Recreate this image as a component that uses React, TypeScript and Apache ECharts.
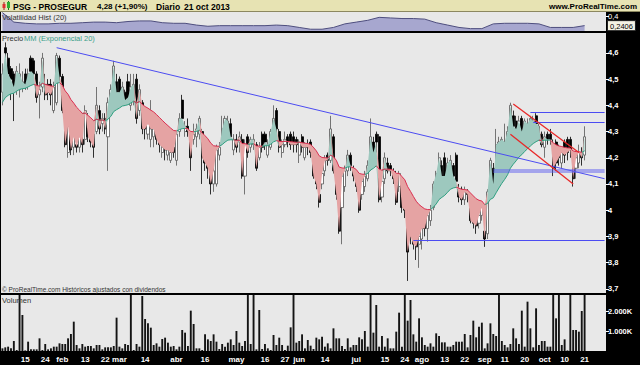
import React, { useEffect, useRef } from "react";
import * as echarts from "echarts";

// ---------- data ----------
const START_DATE = "2013-01-03";
const END_DATE = "2013-10-21";
const HOLIDAYS = ["2013-03-29", "2013-04-01", "2013-05-01"];
const PAD_NAMES = ["p1", "p2", "p3", "p4", "p5", "p6", "p7"];

const opens = [
  4.45,4.62,4.58,4.54,4.52,4.46,4.46,4.47,4.52,4.48,
  4.58,4.57,4.52,4.44,4.47,4.48,4.48,4.48,4.38,4.41,
  4.58,4.51,4.37,4.22,4.32,4.24,4.25,4.24,4.27,4.27,
  4.35,4.30,4.29,4.30,4.38,4.33,4.35,4.28,4.40,4.45,
  4.49,4.50,4.43,4.45,4.49,4.40,4.42,4.50,4.38,4.41,
  4.37,4.29,4.27,4.28,4.33,4.28,4.22,4.24,4.21,4.19,
  4.24,4.19,4.30,4.42,4.30,4.32,4.28,4.27,4.28,4.29,
  4.30,4.24,4.20,4.16,4.10,4.10,4.21,4.27,4.29,4.30,
  4.33,4.23,4.27,4.26,4.27,4.13,4.28,4.24,4.25,4.25,
  4.20,4.29,4.29,4.21,4.24,4.29,4.38,4.30,4.22,4.25,
  4.28,4.29,4.28,4.27,4.21,4.28,4.20,4.25,4.26,4.23,
  4.15,4.06,4.10,4.15,4.21,4.19,4.28,4.11,4.03,4.01,
  4.09,4.15,4.21,4.15,4.12,4.10,4.06,4.09,4.12,4.17,
  4.26,4.29,4.28,4.05,4.12,4.18,4.17,4.14,4.13,4.09,
  4.10,4.01,3.98,3.93,3.96,3.89,3.87,3.89,3.96,3.93,
  3.96,4.01,4.09,4.14,4.17,4.20,4.10,4.12,4.17,4.21,
  4.08,4.08,4.04,4.07,4.05,3.99,3.98,3.95,3.98,3.92,
  3.91,4.07,4.16,4.20,4.23,4.23,4.24,4.25,4.30,4.36,
  4.34,4.29,4.35,4.30,4.30,4.30,4.31,4.36,4.28,4.29,
  4.24,4.29,4.29,4.25,4.26,4.24,4.18,4.26,4.27,4.27,
  4.22,4.16,4.18,4.22,4.21,
];
const closes = [
  4.52,4.60,4.52,4.50,4.47,4.53,4.52,4.49,4.48,4.52,
  4.53,4.52,4.43,4.46,4.58,4.44,4.45,4.44,4.47,4.59,
  4.51,4.38,4.25,4.32,4.23,4.28,4.24,4.28,4.25,4.38,
  4.28,4.26,4.24,4.40,4.31,4.35,4.31,4.41,4.46,4.55,
  4.45,4.45,4.47,4.42,4.43,4.47,4.48,4.35,4.46,4.31,
  4.31,4.33,4.31,4.31,4.27,4.25,4.24,4.23,4.23,4.22,
  4.22,4.29,4.35,4.35,4.32,4.30,4.20,4.29,4.31,4.35,
  4.20,4.18,4.16,4.10,4.15,4.23,4.24,4.31,4.35,4.34,
  4.28,4.27,4.24,4.28,4.13,4.25,4.22,4.27,4.27,4.16,
  4.24,4.24,4.26,4.25,4.30,4.35,4.31,4.24,4.25,4.27,
  4.26,4.25,4.25,4.25,4.26,4.24,4.24,4.24,4.22,4.13,
  4.10,4.03,4.14,4.19,4.19,4.31,4.15,4.06,3.92,4.13,
  4.15,4.21,4.17,4.13,4.09,4.00,4.11,4.13,4.17,4.28,
  4.22,4.26,4.04,4.11,4.20,4.15,4.15,4.12,4.03,4.14,
  4.01,4.00,3.84,3.90,3.87,3.86,3.90,3.93,3.93,3.98,
  4.00,4.10,4.14,4.20,4.13,4.13,4.18,4.19,4.13,4.11,
  4.05,4.04,4.07,4.06,3.96,3.95,3.94,3.98,4.01,3.89,
  4.07,4.19,4.10,4.25,4.26,4.27,4.26,4.30,4.40,4.32,
  4.31,4.34,4.30,4.34,4.33,4.35,4.34,4.33,4.32,4.25,
  4.28,4.27,4.27,4.16,4.18,4.20,4.22,4.21,4.22,4.23,
  4.12,4.20,4.22,4.20,4.28,
];
const lows = [
  4.40,4.55,4.48,4.42,4.34,4.44,4.43,4.45,4.46,4.46,
  4.50,4.49,4.41,4.35,4.45,4.42,4.42,4.40,4.37,4.40,
  4.49,4.37,4.24,4.20,4.21,4.21,4.22,4.22,4.22,4.25,
  4.26,4.24,4.20,4.29,4.29,4.30,4.29,4.15,4.38,4.44,
  4.43,4.42,4.40,4.40,4.41,4.38,4.40,4.33,4.36,4.29,
  4.27,4.27,4.24,4.24,4.25,4.22,4.20,4.19,4.19,4.18,
  4.20,4.17,4.28,4.33,4.28,4.28,4.15,4.25,4.24,4.27,
  4.10,4.15,4.12,4.06,4.07,4.09,4.19,4.25,4.27,4.28,
  4.27,4.21,4.22,4.22,4.12,4.06,4.20,4.22,4.23,4.15,
  4.19,4.22,4.23,4.20,4.23,4.28,4.29,4.22,4.20,4.24,
  4.24,4.23,4.22,4.22,4.18,4.22,4.19,4.21,4.20,4.12,
  4.08,4.01,4.08,4.13,4.17,4.18,4.14,4.04,3.91,3.87,
  4.07,4.13,4.15,4.11,4.07,3.99,4.04,4.07,4.11,4.15,
  4.20,4.22,4.03,4.03,4.10,4.14,4.13,4.10,4.02,4.07,
  3.99,3.97,3.73,3.87,3.85,3.81,3.78,3.85,3.90,3.88,
  3.94,4.00,4.07,4.12,4.11,4.11,4.09,4.10,4.11,4.10,
  4.03,4.02,4.02,4.03,3.95,3.93,3.91,3.93,3.96,3.86,
  3.89,4.06,4.08,4.18,4.21,4.21,4.22,4.24,4.29,4.30,
  4.29,4.27,4.28,4.28,4.28,4.29,4.29,4.30,4.27,4.24,
  4.20,4.25,4.25,4.13,4.15,4.17,4.16,4.18,4.19,4.20,
  4.09,4.12,4.16,4.17,4.19,
];
const highs = [
  4.56,4.64,4.60,4.55,4.53,4.55,4.56,4.53,4.54,4.54,
  4.59,4.58,4.53,4.49,4.60,4.52,4.50,4.50,4.49,4.60,
  4.59,4.52,4.38,4.33,4.34,4.30,4.27,4.29,4.29,4.40,
  4.37,4.32,4.30,4.47,4.40,4.37,4.37,4.43,4.48,4.57,
  4.52,4.51,4.49,4.46,4.52,4.52,4.52,4.52,4.48,4.42,
  4.39,4.35,4.42,4.33,4.34,4.30,4.26,4.25,4.25,4.25,
  4.26,4.30,4.37,4.44,4.34,4.35,4.30,4.33,4.33,4.36,
  4.31,4.26,4.21,4.18,4.17,4.25,4.26,4.36,4.36,4.36,
  4.35,4.29,4.29,4.30,4.29,4.27,4.29,4.28,4.29,4.26,
  4.26,4.30,4.30,4.27,4.31,4.40,4.39,4.31,4.27,4.30,
  4.29,4.30,4.30,4.28,4.27,4.29,4.26,4.27,4.27,4.24,
  4.17,4.08,4.15,4.21,4.22,4.36,4.29,4.12,4.04,4.14,
  4.17,4.23,4.22,4.17,4.13,4.12,4.12,4.15,4.19,4.35,
  4.28,4.30,4.29,4.15,4.22,4.20,4.18,4.16,4.15,4.15,
  4.11,4.02,3.99,3.95,3.98,3.90,3.91,3.94,3.97,3.99,
  4.02,4.11,4.15,4.22,4.19,4.22,4.20,4.21,4.18,4.22,
  4.10,4.09,4.09,4.08,4.06,4.00,4.00,4.00,4.03,3.93,
  4.08,4.20,4.18,4.31,4.28,4.28,4.33,4.32,4.41,4.38,
  4.36,4.36,4.36,4.35,4.35,4.36,4.36,4.37,4.33,4.30,
  4.30,4.30,4.31,4.27,4.27,4.25,4.24,4.27,4.28,4.28,
  4.23,4.22,4.25,4.24,4.32,
];
// volume in thousands of shares
const volumesK = [
  133,183,217,133,500,50,3200,1800,30,467,
  83,83,83,633,50,350,83,133,217,217,
  383,350,350,633,850,1467,300,133,350,217,
  250,250,133,300,300,83,183,183,183,250,
  1667,217,133,350,300,3200,50,350,217,2750,
  1600,1383,1167,300,383,217,600,667,417,217,
  250,83,217,1050,917,250,2017,1350,133,133,
  50,833,583,500,833,467,100,350,217,417,
  583,300,1000,417,250,500,3200,350,3200,83,
  2050,100,350,133,50,800,300,667,300,50,
  267,1183,3200,417,500,833,133,550,267,100,
  667,583,717,217,383,133,1133,633,633,250,
  100,633,183,300,300,683,583,1000,217,3200,
  917,2300,217,750,217,633,133,133,967,1917,
  217,3200,1517,2550,833,467,1633,683,300,217,
  383,217,883,750,433,433,217,217,300,467,
  467,467,850,183,800,1517,683,1217,1417,133,
  383,1383,850,750,3200,500,300,183,350,1133,
  633,350,2017,217,2467,1133,183,2133,300,500,
  500,217,217,3200,1633,3200,300,583,30,3200,
  1050,1050,967,2000,3200,
];
// historical volatility (20), one reading every 4 sessions
const VOLATILITY_STEP = 4;
const volatility = [
  0.46,0.30,0.28,0.27,0.27,0.28,0.28,0.29,0.30,0.30,
  0.29,0.31,0.32,0.32,0.29,0.28,0.28,0.25,0.23,0.24,
  0.24,0.24,0.24,0.24,0.25,0.24,0.21,0.18,0.18,0.21,
  0.27,0.30,0.33,0.38,0.37,0.36,0.36,0.35,0.29,0.25,
  0.21,0.19,0.19,0.27,0.28,0.28,0.28,0.27,0.21,0.21,
  0.21,0.2406,
];
const EMA_PERIOD = 20;
const EMA_SEED = 4.4;

const tickDates = [
  "2013-01-15","2013-01-24","2013-02-01","2013-02-13","2013-02-22","2013-03-01",
  "2013-03-14","2013-04-02","2013-04-16","2013-05-02","2013-05-16","2013-05-27",
  "2013-06-03","2013-06-14","2013-07-01","2013-07-15","2013-07-24","2013-08-01",
  "2013-08-13","2013-08-22","2013-09-02","2013-09-11","2013-09-20","2013-10-01",
  "2013-10-10","2013-10-21",
];
const tickTexts = [
  "15","24","feb","13","22","mar","14","abr","16","may","16","27","jun","14",
  "jul","15","24","ago","13","22","sep","11","20","oct","10","21",
];
const priceTicks = [3.7, 3.8, 3.9, 4.0, 4.1, 4.2, 4.3, 4.4, 4.5, 4.6];
const volumeTicks = [1000, 2000];

const BLUE = "#4c4cf2";
const RED = "#e82828";
const annotationLines = [
  { from: ["2013-01-30", 4.62], to: ["p7", 4.12], color: BLUE, width: 1 },
  { from: ["2013-07-29", 3.885], to: ["p7", 3.885], color: BLUE, width: 1 },
  { from: ["2013-09-05", 4.15], to: ["p7", 4.15], color: "rgba(95,95,240,0.5)", width: 4 },
  { from: ["2013-09-24", 4.375], to: ["p7", 4.375], color: BLUE, width: 1 },
  { from: ["2013-09-25", 4.335], to: ["p7", 4.335], color: BLUE, width: 1 },
  { from: ["2013-09-13", 4.29], to: ["2013-10-15", 4.1], color: RED, width: 1.3 },
  { from: ["2013-09-16", 4.405], to: ["2013-10-17", 4.22], color: RED, width: 1.3 },
];

// ---------- helpers ----------
function tradingDays(start: string, end: string, holidays: string[]) {
  const out: string[] = [];
  const d = new Date(start + "T00:00:00Z");
  const e = new Date(end + "T00:00:00Z");
  while (d <= e) {
    const wd = d.getUTCDay();
    const s = d.toISOString().slice(0, 10);
    if (wd !== 0 && wd !== 6 && !holidays.includes(s)) out.push(s);
    d.setUTCDate(d.getUTCDate() + 1);
  }
  return out;
}

const FONT = '"Liberation Sans", Arial, sans-serif';

function buildOption() {
  const dates = tradingDays(START_DATE, END_DATE, HOLIDAYS);
  const categories = [...dates, ...PAD_NAMES];
  const tickMap: Record<string, string> = {};
  tickDates.forEach((d, i) => (tickMap[d] = tickTexts[i]));

  const k = 2 / (EMA_PERIOD + 1);
  const ema: number[] = [];
  let prev = EMA_SEED;
  closes.forEach((c) => {
    prev = prev + k * (c - prev);
    ema.push(prev);
  });
  const above = closes.map((c, i) => c >= ema[i]);
  const n = closes.length;
  const emaUp = ema.map((v, i) => (above[i] || (i + 1 < n && above[i + 1]) ? v : null));
  const emaDown = ema.map((v, i) => (!above[i] || (i + 1 < n && !above[i + 1]) ? v : null));
  const fillBase = closes.map((c, i) => Math.min(c, ema[i]));
  const fillUp = closes.map((c, i) => Math.max(c - ema[i], 0));
  const fillDown = closes.map((c, i) => Math.max(ema[i] - c, 0));

  const candles = closes.map((c, i) => [opens[i], c, lows[i], highs[i]]);
  const volData = volatility.map((v, j) => [dates[j * VOLATILITY_STEP], v]);

  const xAxisBase = (gi: number) => ({
    type: "category",
    gridIndex: gi,
    data: categories,
    boundaryGap: true,
    axisLine: { show: false },
    axisTick: { show: false },
    splitLine: { show: false },
    axisLabel: { show: false },
  });

  const priceFmt = (v: number) => {
    const s = v.toFixed(1);
    return s.endsWith(".0") ? s.slice(0, -2) : s.replace(".", ",");
  };

  const gridBg = { show: true, backgroundColor: "#e8e8e8", borderWidth: 0 };
  const titleFont = `bold 8.5px ${FONT}`;

  return {
    animation: false,
    backgroundColor: "#000000",
    textStyle: { fontFamily: FONT },
    grid: [
      { left: 1, right: 34, top: 12, height: 19, ...gridBg },
      { left: 1, right: 34, top: 33, height: 260, ...gridBg },
      { left: 1, right: 34, top: 295, height: 56, ...gridBg },
    ],
    xAxis: [
      xAxisBase(0),
      xAxisBase(1),
      {
        ...xAxisBase(2),
        axisLabel: {
          show: true,
          interval: (_i: number, v: string) => tickMap[v] !== undefined,
          formatter: (v: string) => tickMap[v] ?? "",
          color: "#ffffff",
          fontSize: 8,
          fontWeight: "bold",
          margin: 4,
          fontFamily: FONT,
        },
      },
    ],
    yAxis: [
      {
        type: "value",
        gridIndex: 0,
        position: "right",
        min: 0.15,
        max: 0.47,
        splitLine: { show: false },
        axisLine: { show: false },
        axisTick: { show: true, customValues: [0.4], length: 3, lineStyle: { color: "#fff" } },
        axisLabel: {
          customValues: [0.4, 0.2406],
          margin: 2,
          fontFamily: FONT,
          formatter: (v: number) => (Math.abs(v - 0.4) < 1e-6 ? "{a|0,4}" : "{b|0,2406}"),
          rich: {
            a: { color: "#ffffff", fontSize: 7.5, fontFamily: FONT },
            b: {
              color: "#000",
              fontSize: 7.5,
              fontFamily: FONT,
              backgroundColor: "#f4f2e4",
              borderColor: "#222",
              borderWidth: 1,
              padding: [1, 2, 0, 2],
            },
          },
        },
      },
      {
        type: "value",
        gridIndex: 1,
        position: "right",
        min: 3.684,
        max: 4.676,
        splitLine: { show: false },
        axisLine: { show: false },
        axisTick: { show: true, customValues: priceTicks, length: 3, lineStyle: { color: "#fff" } },
        axisLabel: {
          customValues: priceTicks,
          formatter: priceFmt,
          color: "#ffffff",
          fontSize: 7.5,
          fontWeight: "bold",
          margin: 2,
          fontFamily: FONT,
        },
      },
      {
        type: "value",
        gridIndex: 2,
        position: "right",
        min: 0,
        max: 2800,
        splitLine: { show: false },
        axisLine: { show: false },
        axisTick: { show: true, customValues: volumeTicks, length: 3, lineStyle: { color: "#fff" } },
        axisLabel: {
          customValues: volumeTicks,
          formatter: (v: number) => `${v / 1000}.000K`,
          color: "#ffffff",
          fontSize: 7.5,
          fontWeight: "bold",
          margin: 2,
          fontFamily: FONT,
        },
      },
    ],
    series: [
      {
        name: "volatilidad",
        type: "line",
        xAxisIndex: 0,
        yAxisIndex: 0,
        data: volData,
        symbol: "none",
        lineStyle: { color: "#4e4e7e", width: 1 },
        areaStyle: { color: "#a7a7cf", opacity: 1 },
      },
      {
        name: "base",
        type: "line",
        xAxisIndex: 1,
        yAxisIndex: 1,
        stack: "fill",
        data: fillBase,
        symbol: "none",
        lineStyle: { opacity: 0 },
        silent: true,
      },
      {
        name: "up",
        type: "line",
        xAxisIndex: 1,
        yAxisIndex: 1,
        stack: "fill",
        data: fillUp,
        symbol: "none",
        lineStyle: { opacity: 0 },
        areaStyle: { color: "#9dc8be", opacity: 1 },
        silent: true,
      },
      {
        name: "down",
        type: "line",
        xAxisIndex: 1,
        yAxisIndex: 1,
        stack: "fill",
        data: fillDown,
        symbol: "none",
        lineStyle: { opacity: 0 },
        areaStyle: { color: "#e5a3a3", opacity: 1 },
        silent: true,
      },
      {
        name: "emaUp",
        type: "line",
        xAxisIndex: 1,
        yAxisIndex: 1,
        data: emaUp,
        symbol: "none",
        connectNulls: false,
        lineStyle: { color: "#2f9f80", width: 1 },
      },
      {
        name: "emaDown",
        type: "line",
        xAxisIndex: 1,
        yAxisIndex: 1,
        data: emaDown,
        symbol: "none",
        connectNulls: false,
        lineStyle: { color: "#da2f50", width: 1 },
      },
      {
        name: "precio",
        type: "candlestick",
        xAxisIndex: 1,
        yAxisIndex: 1,
        data: candles,
        barWidth: 2.6,
        itemStyle: {
          color: "#ffffff",
          color0: "#000000",
          borderColor: "#555555",
          borderColor0: "#000000",
          borderWidth: 0.8,
        },
        markLine: {
          silent: true,
          symbol: ["none", "none"],
          label: { show: false },
          animation: false,
          data: annotationLines.map((l) => [
            { coord: l.from, lineStyle: { color: l.color, width: l.width, type: "solid" } },
            { coord: l.to },
          ]),
        },
      },
      {
        name: "volumen",
        type: "bar",
        xAxisIndex: 2,
        yAxisIndex: 2,
        data: volumesK,
        barWidth: 1.9,
        itemStyle: { color: "#141414" },
      },
    ],
    graphic: [
      { type: "rect", shape: { x: 0, y: 0, width: 640, height: 12 }, style: { fill: "#e7e3b3" }, z: 10 },
      { type: "line", shape: { x1: 0, y1: 11.5, x2: 640, y2: 11.5 }, style: { stroke: "#8c8860", lineWidth: 1 }, z: 11 },
      { type: "line", shape: { x1: 4, y1: 2, x2: 4, y2: 10 }, style: { stroke: "#a02020", lineWidth: 1 }, z: 11 },
      { type: "rect", shape: { x: 2.5, y: 4, width: 3, height: 4 }, style: { fill: "#e03030" }, z: 12 },
      { type: "line", shape: { x1: 8.5, y1: 1, x2: 8.5, y2: 10 }, style: { stroke: "#207020", lineWidth: 1 }, z: 11 },
      { type: "rect", shape: { x: 7, y: 2, width: 3, height: 6 }, style: { fill: "#30b030" }, z: 12 },
      {
        type: "text", x: 13, y: 6.5, z: 12,
        style: { text: "PSG - PROSEGUR", font: titleFont, fill: "#000", textVerticalAlign: "middle" },
      },
      {
        type: "text", x: 97, y: 6.5, z: 12,
        style: { text: "4,28 (+1,90%)", font: `bold 8px ${FONT}`, fill: "#000", textVerticalAlign: "middle" },
      },
      {
        type: "text", x: 156, y: 6.5, z: 12,
        style: { text: "Diario", font: titleFont, fill: "#000", textVerticalAlign: "middle" },
      },
      {
        type: "text", x: 184, y: 6.5, z: 12,
        style: { text: "21 oct 2013", font: titleFont, fill: "#000", textVerticalAlign: "middle" },
      },
      {
        type: "text", x: 637, y: 6.5, z: 12,
        style: { text: "www.ProRealTime.com", font: `bold 8px ${FONT}`, fill: "#000", textAlign: "right", textVerticalAlign: "middle" },
      },
      {
        type: "text", x: 2, y: 13, z: 12,
        style: { text: "Volatilidad Hist (20)", font: `7.5px ${FONT}`, fill: "#333" },
      },
      {
        type: "text", x: 2, y: 34.5, z: 12,
        style: { text: "Precio", font: `7.5px ${FONT}`, fill: "#333" },
      },
      {
        type: "text", x: 24, y: 34.5, z: 12,
        style: { text: "MM (Exponencial 20)", font: `7.5px ${FONT}`, fill: "#3a9e88" },
      },
      {
        type: "text", x: 2, y: 286, z: 12,
        style: { text: "© ProRealTime.com Históricos ajustados con dividendos", font: `6.5px ${FONT}`, fill: "#333" },
      },
      {
        type: "text", x: 2, y: 296, z: 12,
        style: { text: "Volumen", font: `7.5px ${FONT}`, fill: "#333" },
      },
    ],
  };
}

export default function App() {
  const ref = useRef<HTMLDivElement>(null);
  useEffect(() => {
    document.body.style.margin = "0";
    if (!ref.current) return;
    const chart = echarts.init(ref.current, null, { renderer: "svg" });
    chart.setOption(buildOption() as any);
    return () => chart.dispose();
  }, []);
  return <div ref={ref} style={{ width: 640, height: 365 }} />;
}
